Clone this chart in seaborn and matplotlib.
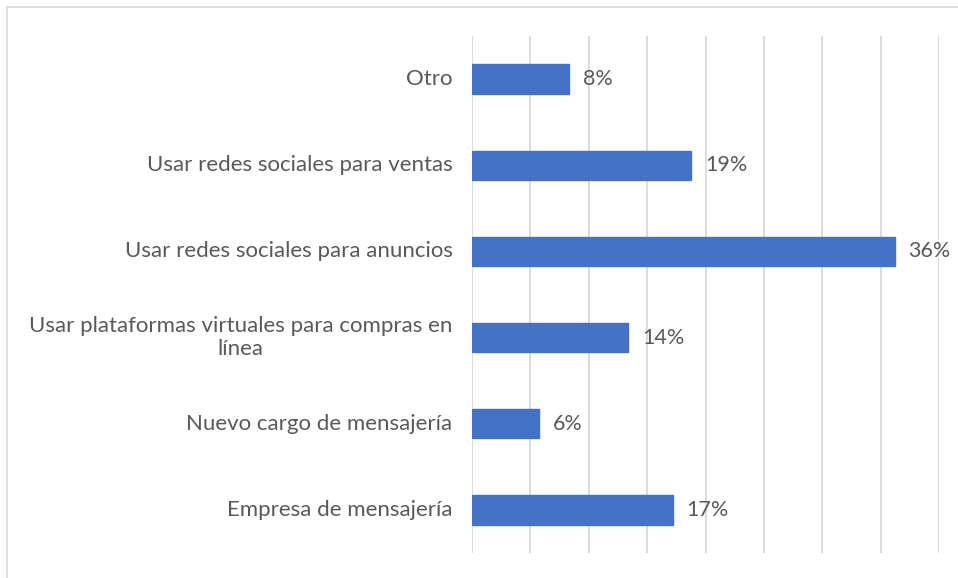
import matplotlib
matplotlib.use("Agg")
import matplotlib.pyplot as plt
import seaborn as sns
import pandas as pd
from matplotlib.patches import Rectangle

# Datos (de arriba hacia abajo)
categorias = [
    "Otro",
    "Usar redes sociales para ventas",
    "Usar redes sociales para anuncios",
    "Usar plataformas virtuales para compras en\nlínea",
    "Nuevo cargo de mensajería",
    "Empresa de mensajería",
]
valores = [8.3, 18.8, 36.2, 13.4, 5.7, 17.2]
etiquetas = ["8%", "19%", "36%", "14%", "6%", "17%"]

df = pd.DataFrame({"categoria": categorias, "valor": valores})

sns.set_style("white")
plt.rcParams["font.family"] = ["Lato", "DejaVu Sans"]

texto = "#595959"
rejilla = "#d9d9d9"

fig = plt.figure(figsize=(9.58, 5.78), dpi=100)
ax = fig.add_axes([472 / 958, 1 - 553 / 578, (939 - 472) / 958, (553 - 36) / 578])

sns.barplot(data=df, x="valor", y="categoria", color="#4472c4", width=0.34,
            saturation=1, ax=ax, edgecolor="#4472c4")

ax.set_xlim(0, 40)
ax.set_ylim(5.5, -0.5)
ax.set_xticks(range(0, 41, 5))
ax.tick_params(axis="x", length=0, labelbottom=False)
ax.set_yticks(range(len(categorias)))
ax.set_yticklabels([])
ax.tick_params(axis="y", length=0)
ax.grid(axis="x", color=rejilla, linewidth=1.3)
ax.set_axisbelow(True)
for s in ax.spines.values():
    s.set_visible(False)
ax.set_xlabel("")
ax.set_ylabel("")

# etiquetas de categoria, centradas entre lineas como en Excel
trans = ax.get_yaxis_transform()
for i, c in enumerate(categorias):
    ax.annotate(c, (0, i), xycoords=trans, xytext=(-14, 0), textcoords="offset points",
                ha="right", va="center", multialignment="center",
                fontsize=16, color=texto)

for i, (v, t) in enumerate(zip(valores, etiquetas)):
    ax.annotate(t, (v, i), xytext=(10, 0), textcoords="offset points",
                va="center", ha="left", fontsize=15.5, color=texto)

# marco del area del grafico
fig.add_artist(Rectangle((7 / 958, -0.01), 1.0, 1 - 7 / 578 + 0.01,
                         transform=fig.transFigure, fill=False,
                         edgecolor="#d9d9d9", linewidth=1.2))

fig.savefig("out.png", dpi=100)
